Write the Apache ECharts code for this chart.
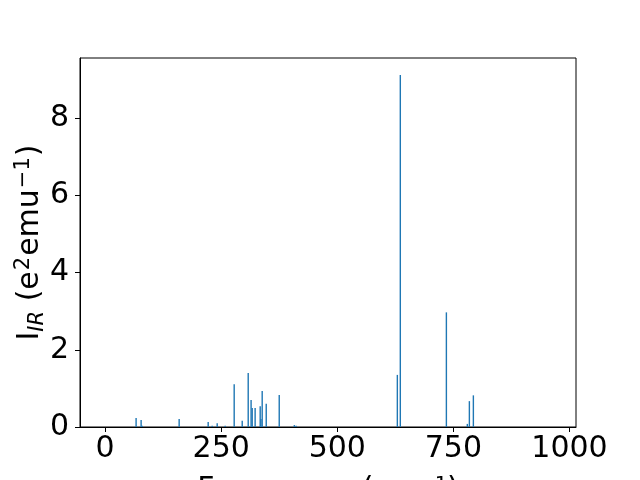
<!DOCTYPE html>
<html>
<head>
<meta charset="utf-8">
<script src="https://cdn.jsdelivr.net/npm/echarts@6/dist/echarts.min.js"></script>
<style>html,body{margin:0;padding:0;background:#fff}#c{width:640px;height:480px}</style>
</head>
<body>
<div id="c"></div>
<script>
const frequencies = [66.8, 77.6, 79.8, 159.5, 222, 230.6, 241.4, 258.6, 278, 295.3, 308.2, 314.4, 316.8, 323.1, 334, 335.6, 338.3, 347, 375, 407.5, 411.3, 629.3, 635.7, 734.9, 780, 784.4, 793];
const intensities = [0.23, 0.18, 0.03, 0.21, 0.13, 0.03, 0.10, 0.03, 1.11, 0.16, 1.40, 0.70, 0.49, 0.49, 0.54, 0.21, 0.93, 0.60, 0.83, 0.05, 0.03, 1.35, 9.12, 2.97, 0.08, 0.67, 0.82];
const xTicks = [0, 250, 500, 750, 1000];
const yTicks = [0, 2, 4, 6, 8];

const chart = echarts.init(document.getElementById('c'), null, {renderer: 'canvas'});
const font = 'DejaVu Sans';
const fs = 30;
const data = frequencies.map((f, i) => [f, intensities[i]]);
chart.setOption({
  animation: false,
  grid: {left: 80, right: 64, top: 58, bottom: 53, show: true, borderColor: '#000', borderWidth: 1,
    backgroundColor: 'transparent', containLabel: false, outerBoundsMode: 'none'},
  xAxis: {
    type: 'value', min: -54, max: 1014,
    name: 'Frequency (cm\u207B\u00B9)', nameLocation: 'middle', nameGap: 48,
    nameTextStyle: {fontFamily: font, fontSize: fs, color: '#000'},
    axisLine: {show: true, onZero: false, lineStyle: {color: '#000', width: 1}},
    axisTick: {show: true, length: 5, customValues: xTicks, lineStyle: {color: '#000'}},
    axisLabel: {fontFamily: font, fontSize: fs, color: '#000', margin: 7, customValues: xTicks,
      formatter: v => String(v), showMinLabel: true, showMaxLabel: true},
    splitLine: {show: false}
  },
  yAxis: {
    type: 'value', min: 0, max: 9.56,
    name: '{n|I}{s|IR}{n| (e}{p|2}{n|emu}{p|\u22121}{n|)}', nameLocation: 'middle', nameGap: 32, nameRotate: 90,
    nameMoveOverlap: false,
    nameTextStyle: {fontFamily: font, fontSize: fs, color: '#000',
      rich: {
        n: {fontFamily: font, fontSize: fs, color: '#000'},
        s: {fontFamily: font, fontSize: 21, fontStyle: 'italic', color: '#000', verticalAlign: 'bottom', padding: [10, 0, 0, 0]},
        p: {fontFamily: font, fontSize: 21, color: '#000', verticalAlign: 'top', padding: [0, 1, 14, 1]}
      }},
    axisLine: {show: true, onZero: false, lineStyle: {color: '#000', width: 1}},
    axisTick: {show: true, length: 5, customValues: yTicks, lineStyle: {color: '#000'}},
    axisLabel: {fontFamily: font, fontSize: fs, color: '#000', margin: 11, customValues: yTicks,
      formatter: v => String(v)},
    splitLine: {show: false}
  },
  series: [{
    type: 'bar', data: data, barWidth: 1.4,
    itemStyle: {color: '#1f77b4'}
  }]
});
</script>
</body>
</html>
